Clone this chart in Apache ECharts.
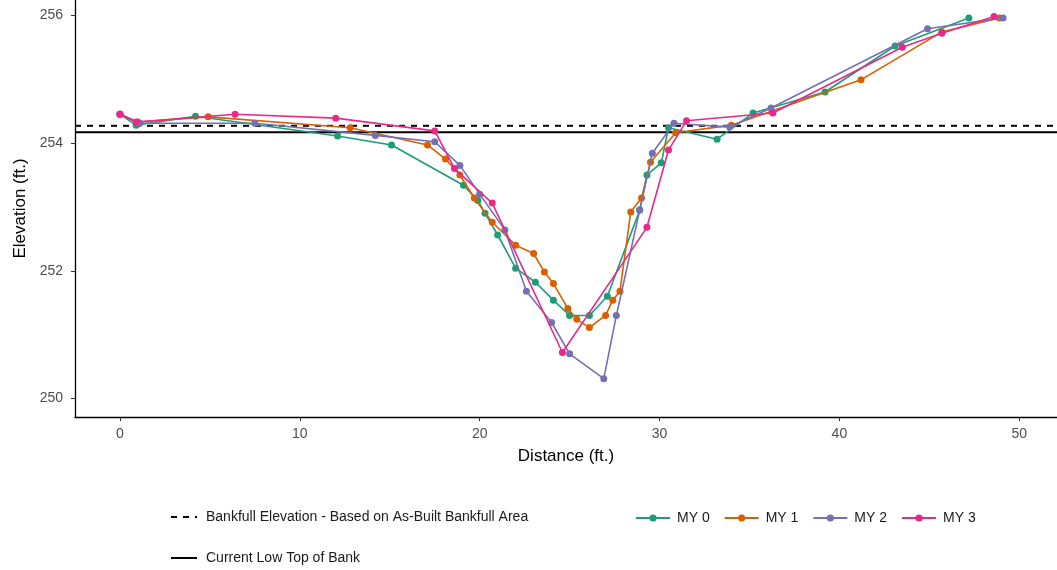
<!DOCTYPE html>
<html>
<head>
<meta charset="utf-8">
<script src="https://cdn.jsdelivr.net/npm/echarts@6/dist/echarts.min.js"></script>
<style>
  html, body { margin: 0; padding: 0; background: #ffffff; }
  #chart { width: 1057px; height: 570px; }
</style>
</head>
<body>
<div id="chart"></div>
<script>
// Cross-section survey: station distance (ft.) vs. elevation (ft.) per monitoring year
const seriesNames = ['MY 0', 'MY 1', 'MY 2', 'MY 3'];
const seriesColors = ['#1B9E77', '#D95F02', '#7570B3', '#E7298A'];

const my0 = [[0, 254.45], [0.9, 254.28], [4.2, 254.42], [12.1, 254.11], [15.1, 253.97],
  [19.1, 253.34], [19.9, 253.1], [20.3, 252.9], [21.0, 252.56], [22.0, 252.04],
  [23.1, 251.82], [24.1, 251.54], [25.0, 251.3], [26.1, 251.3], [27.1, 251.6],
  [28.9, 252.95], [29.3, 253.5], [30.1, 253.69], [30.5, 254.24], [33.2, 254.06],
  [35.2, 254.47], [39.2, 254.8], [43.1, 255.52], [47.2, 255.96]];

const my1 = [[0, 254.45], [1.0, 254.33], [4.9, 254.41], [12.8, 254.24], [17.1, 253.97],
  [18.1, 253.75], [18.9, 253.5], [19.7, 253.14], [20.7, 252.76], [22.0, 252.4],
  [23.0, 252.27], [23.6, 251.98], [24.1, 251.8], [24.9, 251.41], [25.4, 251.24],
  [26.1, 251.11], [27.0, 251.3], [27.4, 251.54], [27.8, 251.68], [28.4, 252.92],
  [29.0, 253.14], [29.5, 253.7], [30.9, 254.16], [34.0, 254.28], [41.2, 254.99],
  [45.7, 255.74], [48.9, 255.96]];

const my2 = [[0, 254.45], [1.1, 254.31], [7.5, 254.31], [14.2, 254.12], [17.5, 254.02],
  [18.9, 253.65], [20.0, 253.2], [21.4, 252.64], [22.6, 251.68], [24.0, 251.19],
  [25.0, 250.7], [26.9, 250.31], [27.6, 251.3], [28.9, 252.95], [29.6, 253.84],
  [30.8, 254.31], [33.9, 254.25], [36.2, 254.55], [44.9, 255.79], [49.1, 255.96]];

const my3 = [[0, 254.45], [0.9, 254.33], [6.4, 254.45], [12.0, 254.39], [17.5, 254.19],
  [18.6, 253.6], [20.7, 253.06], [24.6, 250.72], [29.3, 252.68], [30.5, 253.89],
  [31.5, 254.35], [36.3, 254.47], [43.5, 255.5], [45.7, 255.72], [48.6, 255.98]];

const surveys = [my0, my1, my2, my3];

// Reference elevations
const bankfullName = 'Bankfull Elevation - Based on As-Built Bankfull Area';
const bankfullElevation = 254.27;
const topOfBankName = 'Current Low Top of Bank';
const lowTopOfBank = 254.17;

// Axis extents and tick labels
const xRange = [-2.5, 52.1];
const yRange = [249.71, 256.24];
const xTicks = [0, 10, 20, 30, 40, 50];
const yTicks = [250, 252, 254, 256];

const font = 'Liberation Sans, Arial, Helvetica, sans-serif';

function refLine(name, value, type) {
  return {
    name: name,
    type: 'line',
    data: [[xRange[0], value], [xRange[1], value]],
    symbol: 'none',
    silent: true,
    z: 1,
    itemStyle: { color: '#000000' },
    lineStyle: { color: '#000000', width: 2, type: type }
  };
}

const series = [
  refLine(bankfullName, bankfullElevation, [6, 6]),
  refLine(topOfBankName, lowTopOfBank, 'solid')
];
surveys.forEach(function (pts, i) {
  series.push({
    name: seriesNames[i],
    type: 'line',
    data: pts,
    symbol: 'circle',
    symbolSize: 7,
    z: 3 + i,
    lineStyle: { color: seriesColors[i], width: 1.6 },
    itemStyle: { color: seriesColors[i] }
  });
});

const chart = echarts.init(document.getElementById('chart'), null, { renderer: 'canvas' });
chart.setOption({
  animation: false,
  backgroundColor: '#ffffff',
  grid: { left: 75, right: 0, top: 0, bottom: 153, containLabel: false },
  xAxis: {
    type: 'value',
    min: xRange[0],
    max: xRange[1],
    name: 'Distance (ft.)',
    nameLocation: 'middle',
    nameGap: 31,
    nameTextStyle: { fontFamily: font, fontSize: 17, color: '#000000' },
    axisLine: { show: true, onZero: false, lineStyle: { color: '#000000', width: 1.3 } },
    axisTick: { show: true, length: 4, customValues: xTicks, lineStyle: { color: '#333333' } },
    axisLabel: { customValues: xTicks, margin: 10, fontFamily: font, fontSize: 14, color: '#4d4d4d' },
    splitLine: { show: false }
  },
  yAxis: {
    type: 'value',
    min: yRange[0],
    max: yRange[1],
    name: 'Elevation (ft.)',
    nameLocation: 'middle',
    nameGap: 44,
    nameRotate: 90,
    nameTextStyle: { fontFamily: font, fontSize: 17, color: '#000000' },
    axisLine: { show: true, onZero: false, lineStyle: { color: '#000000', width: 1.3 } },
    axisTick: { show: true, length: 4, customValues: yTicks, lineStyle: { color: '#333333' } },
    axisLabel: { customValues: yTicks, margin: 12, fontFamily: font, fontSize: 14, color: '#4d4d4d' },
    splitLine: { show: false }
  },
  legend: [
    {
      data: [
        { name: bankfullName, itemStyle: { opacity: 0 } },
        { name: topOfBankName, itemStyle: { opacity: 0 } }
      ],
      orient: 'vertical',
      left: 165,
      top: 505,
      itemGap: 27,
      itemWidth: 26,
      itemHeight: 14,
      textStyle: { fontFamily: font, fontSize: 14, color: '#1a1a1a', padding: [0, 0, 0, 4] }
    },
    {
      data: seriesNames,
      orient: 'horizontal',
      left: 630,
      top: 506,
      itemGap: 14,
      itemWidth: 34,
      itemHeight: 9,
      textStyle: { fontFamily: font, fontSize: 14, color: '#1a1a1a', padding: [0, 0, 0, 2] }
    }
  ],
  series: series
});
</script>
</body>
</html>
